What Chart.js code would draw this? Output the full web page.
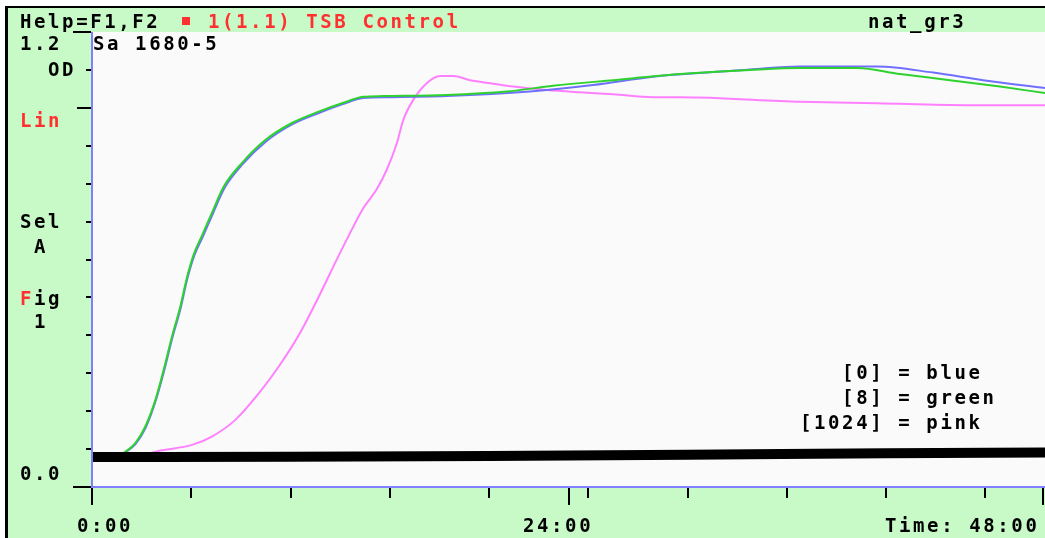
<!DOCTYPE html>
<html lang="en">
<head>
  <meta charset="UTF-8">
  <title>nat_gr3</title>
  <script src="https://cdn.jsdelivr.net/npm/chart.js"></script>
  <style>
    body { margin: 0; background: #ffffff; }
    #wrap { width: 1045px; height: 538px; position: relative; }
  </style>
</head>
<body>
  <div id="wrap">
    <canvas id="odChart"></canvas>
  </div>

<script>
  // time in hours, optical density
  const blueHours = [0, 1.4, 1.7, 2.2, 2.7, 3.2, 3.63, 4.05, 4.47, 4.8, 5.15, 5.58, 6.08, 6.68, 7.6, 8.78, 10.1, 11.45, 12.6, 13.66, 15.01, 17.87, 22.06, 25.23, 28.26, 29.26, 33.14, 35.66, 39.54, 42.37, 44.88, 48]
  const blueOD = [0.080, 0.084, 0.092, 0.114, 0.156, 0.226, 0.306, 0.394, 0.473, 0.549, 0.610, 0.660, 0.720, 0.789, 0.852, 0.912, 0.957, 0.987, 1.009, 1.026, 1.028, 1.031, 1.043, 1.060, 1.082, 1.087, 1.101, 1.109, 1.109, 1.093, 1.073, 1.052]

  const greenHours = [0, 1.4, 1.68, 2.18, 2.68, 3.19, 3.61, 4.03, 4.45, 4.78, 5.12, 5.54, 6.04, 6.63, 7.56, 8.73, 10.07, 11.42, 12.59, 13.66, 14.66, 17.87, 20.89, 23.22, 26.24, 29.62, 33.14, 35.66, 38.53, 40.70, 43.21, 45.73, 48]
  const greenOD = [0.080, 0.084, 0.093, 0.116, 0.159, 0.229, 0.309, 0.397, 0.476, 0.552, 0.613, 0.663, 0.723, 0.792, 0.855, 0.915, 0.960, 0.990, 1.012, 1.029, 1.031, 1.034, 1.043, 1.058, 1.073, 1.089, 1.100, 1.105, 1.105, 1.089, 1.073, 1.056, 1.039]

  const pinkHours = [0, 2.5, 3.44, 5.04, 6.04, 7.22, 8.40, 9.40, 10.41, 11.45, 12.32, 12.99, 13.66, 14.34, 14.84, 15.35, 15.68, 16.18, 16.86, 17.53, 18.20, 19.04, 19.54, 21.20, 22.90, 24.58, 26.24, 28.26, 29.62, 35.66, 39.54, 44.07, 48]
  const pinkOD = [0.080, 0.085, 0.096, 0.111, 0.133, 0.177, 0.247, 0.317, 0.400, 0.505, 0.599, 0.669, 0.735, 0.785, 0.836, 0.906, 0.968, 1.021, 1.065, 1.084, 1.084, 1.073, 1.069, 1.056, 1.047, 1.041, 1.036, 1.028, 1.028, 1.016, 1.012, 1.007, 1.007]

  // thick black baseline trace
  const baseHours = [0, 10, 20, 30, 40, 48]
  const baseOD = [0.079, 0.080, 0.082, 0.085, 0.089, 0.091]

  const minorHours = [5, 10, 15, 20, 25, 30, 35, 40, 45]
  const majorHours = [0, 24, 48]
  const timeLabels = ['0:00', '24:00', 'Time: 48:00']
  const odTicks = [0.1, 0.2, 0.3, 0.4, 0.5, 0.6, 0.7, 0.8, 0.9, 1.0, 1.1]
  const legendLines = ['   [0] = blue', '   [8] = green', '[1024] = pink']

  const GREEN_BG = '#c8fac8'
  const RED = '#ff3030'

  function pts(xs, ys) {
    return xs.map((x, i) => ({x: x, y: ys[i]}))
  }

  function txt(ctx, s, x, y, color) {
    ctx.fillStyle = color || '#000000'
    ctx.fillText(s, x, y)
  }

  const screenPlugin = {
    id: 'screen',
    beforeDraw(chart) {
      const ctx = chart.ctx
      const a = chart.chartArea
      ctx.save()
      ctx.fillStyle = '#ffffff'
      ctx.fillRect(0, 0, chart.width, chart.height)
      ctx.fillStyle = GREEN_BG
      ctx.fillRect(8, 8, chart.width - 8, chart.height - 8)
      ctx.fillStyle = '#fafafa'
      ctx.fillRect(a.left, a.top, a.right - a.left, a.bottom - a.top)
      ctx.fillStyle = '#000000'
      ctx.fillRect(5, 6, chart.width - 5, 2)
      ctx.fillRect(5, 6, 3, chart.height - 6)
      ctx.restore()
    },
    afterDraw(chart) {
      const ctx = chart.ctx
      const a = chart.chartArea
      const xs = chart.scales.x
      const ys = chart.scales.y
      ctx.save()

      // frame
      ctx.strokeStyle = '#8080ff'
      ctx.lineWidth = 2
      ctx.beginPath()
      ctx.moveTo(a.left, a.top)
      ctx.lineTo(a.left, a.bottom)
      ctx.lineTo(a.right, a.bottom)
      ctx.stroke()

      // ticks
      ctx.strokeStyle = '#000000'
      ctx.lineWidth = 2
      ctx.beginPath()
      odTicks.forEach(v => {
        const y = Math.round(ys.getPixelForValue(v))
        const len = Math.abs(v - 1.0) < 1e-6 ? 15 : 6
        ctx.moveTo(a.left - len, y)
        ctx.lineTo(a.left - 1, y)
      })
      ;[0, 1.2].forEach(v => {
        const y = Math.round(ys.getPixelForValue(v))
        ctx.moveTo(a.left - 19, y)
        ctx.lineTo(a.left - 1, y)
      })
      minorHours.forEach(h => {
        const x = Math.round(xs.getPixelForValue(h))
        ctx.moveTo(x, a.bottom + 1)
        ctx.lineTo(x, a.bottom + 11)
      })
      majorHours.forEach(h => {
        const x = Math.min(Math.round(xs.getPixelForValue(h)), chart.width - 2)
        ctx.moveTo(x, a.bottom + 1)
        ctx.lineTo(x, a.bottom + 18)
      })
      ctx.stroke()

      // texts
      ctx.font = 'bold 19px "DejaVu Sans Mono"'
      ctx.letterSpacing = '2.6px'
      ctx.textBaseline = 'alphabetic'
      ctx.textAlign = 'left'
      txt(ctx, 'Help=F1,F2', 20, 28)
      ctx.fillStyle = RED
      ctx.fillRect(182, 17, 8, 8)
      txt(ctx, '1(1.1) TSB Control', 208, 28, RED)
      txt(ctx, 'nat_gr3', 868, 28)

      txt(ctx, '1.2', 20, 50)
      txt(ctx, 'Sa 1680-5', 93, 50)
      txt(ctx, 'OD', 48, 76)
      txt(ctx, 'Lin', 20, 127, RED)
      txt(ctx, 'Sel', 20, 228)
      txt(ctx, 'A', 34, 253)
      txt(ctx, 'F', 20, 305, RED)
      txt(ctx, 'ig', 34, 305)
      txt(ctx, '1', 34, 328)
      txt(ctx, '0.0', 20, 480)

      txt(ctx, timeLabels[0], 77, 532)
      txt(ctx, timeLabels[1], 523, 532)
      txt(ctx, timeLabels[2], 885, 532)

      legendLines.forEach((s, i) => {
        txt(ctx, s, 800, 379 + i * 25)
      })
      ctx.restore()
    }
  }

  const lineStyle = {
    borderWidth: 2,
    pointRadius: 0,
    fill: false,
    tension: 0,
    cubicInterpolationMode: 'monotone'
  }

  new Chart(document.getElementById('odChart'), {
    type: 'line',
    data: {
      datasets: [
        Object.assign({label: 'base', data: pts(baseHours, baseOD), borderColor: '#000000'}, lineStyle, {borderWidth: 10}),
        Object.assign({label: '[8] = green', data: pts(greenHours, greenOD), borderColor: '#2ed22e'}, lineStyle),
        Object.assign({label: '[0] = blue', data: pts(blueHours, blueOD), borderColor: '#7070ff'}, lineStyle),
        Object.assign({label: '[1024] = pink', data: pts(pinkHours, pinkOD), borderColor: '#ff80ff'}, lineStyle)
      ]
    },
    options: {
      responsive: true,
      maintainAspectRatio: false,
      animation: false,
      layout: { padding: { left: 92, top: 32, right: 0, bottom: 51 } },
      scales: {
        x: { type: 'linear', min: 0, max: 48, display: false },
        y: { type: 'linear', min: 0, max: 1.2, display: false }
      },
      plugins: {
        legend: { display: false },
        tooltip: { enabled: false }
      }
    },
    plugins: [screenPlugin]
  })
</script>
</body>
</html>
